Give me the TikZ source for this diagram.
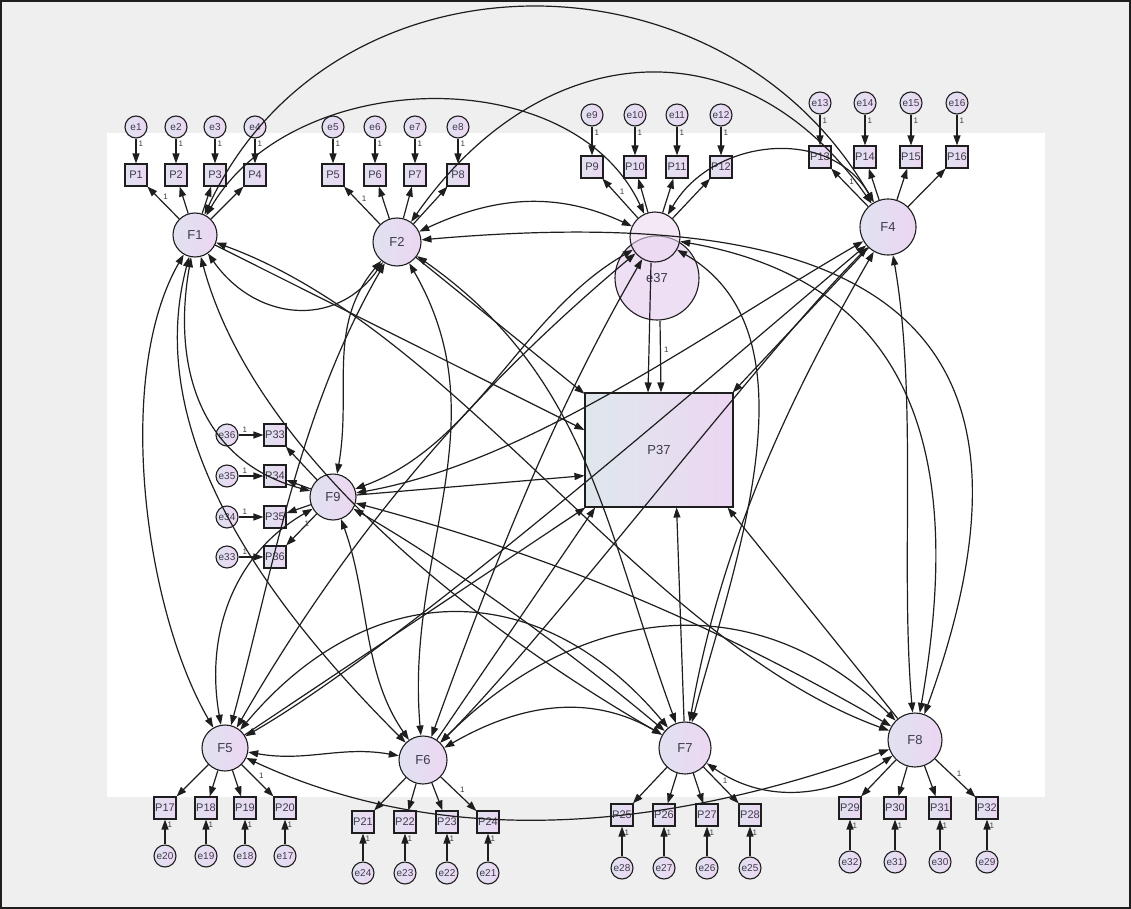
\documentclass[tikz,border=0pt]{standalone}
\usepackage{fontspec}
\setmainfont{Liberation Sans}
\usetikzlibrary{arrows.meta,calc}
\definecolor{bgG}{RGB}{239,239,239}
\definecolor{lavA}{RGB}{224,226,240}
\definecolor{lavB}{RGB}{236,214,242}
\definecolor{lavC}{RGB}{222,232,236}
\definecolor{ln}{RGB}{30,30,30}
\definecolor{txt}{RGB}{60,60,75}
\begin{document}
\begin{tikzpicture}[x=1pt,y=1pt,
  errn/.style={circle,draw=ln,line width=1.1pt,left color=lavA,right color=lavB,minimum size=22pt,inner sep=0pt,text=txt,font=\fontsize{10}{10}\selectfont},
  obsn/.style={rectangle,draw=ln,line width=1.1pt,left color=lavA,right color=lavB,minimum width=22pt,minimum height=22pt,inner sep=0pt,text=txt,font=\fontsize{11}{11}\selectfont},
  latn/.style={circle,draw=ln,line width=1.1pt,left color=lavA,right color=lavB,inner sep=0pt,text=txt,font=\fontsize{13}{13}\selectfont},
  tip/.tip={Triangle[length=10pt,width=7pt]},
  pth/.style={draw=ln,line width=1.2pt,-tip},
  cov/.style={draw=ln,line width=1.2pt,tip-tip},
  one/.style={font=\fontsize{8}{8}\selectfont,inner sep=1pt,text=txt}
]
% background
\fill[bgG] (0,0) rectangle (1131,-909);
\fill[white] (107,-133) rectangle (1045,-797);
\useasboundingbox (0,0) rectangle (1131,-909);
\draw[line width=1.6pt,ln] (1,-1) rectangle (1130,-908);

% ---------- indicator blocks ----------
\foreach \i/\x in {1/136,2/176,3/215,4/255,5/333,6/375,7/415,8/458}{
  \node[errn] (e\i) at (\x,-127) {e\i};
  \node[obsn] (P\i) at (\x,-175) {P\i};
  \draw[pth] (e\i) -- (P\i) node[one,pos=0.2,right=1pt]{1};
}
\foreach \i/\x in {9/592,10/635,11/677,12/721}{
  \node[errn] (e\i) at (\x,-115) {e\i};
  \node[obsn] (P\i) at (\x,-167) {P\i};
  \draw[pth] (e\i) -- (P\i) node[one,pos=0.2,right=1pt]{1};
}
\foreach \i/\x in {13/820,14/865,15/911,16/957}{
  \node[errn] (e\i) at (\x,-103) {e\i};
  \node[obsn] (P\i) at (\x,-157) {P\i};
  \draw[pth] (e\i) -- (P\i) node[one,pos=0.2,right=1pt]{1};
}
\foreach \p/\e/\y in {33/36/435,34/35/476,35/34/517,36/33/557}{
  \node[errn] (e\e) at (227,-\y) {e\e};
  \node[obsn] (P\p) at (275,-\y) {P\p};
  \draw[pth] (e\e) -- (P\p) node[one,pos=0.25,above=1pt]{1};
}
\foreach \p/\e/\x in {17/20/165,18/19/206,19/18/245,20/17/285}{
  \node[obsn] (P\p) at (\x,-808) {P\p};
  \node[errn] (e\e) at (\x,-856) {e\e};
  \draw[pth] (e\e) -- (P\p) node[one,pos=0.8,right=1pt]{1};
}
\foreach \p/\e/\x in {21/24/363,22/23/405,23/22/447,24/21/488}{
  \node[obsn] (P\p) at (\x,-822) {P\p};
  \node[errn] (e\e) at (\x,-873) {e\e};
  \draw[pth] (e\e) -- (P\p) node[one,pos=0.8,right=1pt]{1};
}
\foreach \p/\e/\x in {25/28/622,26/27/664,27/26/707,28/25/750}{
  \node[obsn] (P\p) at (\x,-815) {P\p};
  \node[errn] (e\e) at (\x,-868) {e\e};
  \draw[pth] (e\e) -- (P\p) node[one,pos=0.8,right=1pt]{1};
}
\foreach \p/\e/\x in {29/32/850,30/31/895,31/30/940,32/29/987}{
  \node[obsn] (P\p) at (\x,-808) {P\p};
  \node[errn] (e\e) at (\x,-862) {e\e};
  \draw[pth] (e\e) -- (P\p) node[one,pos=0.8,right=1pt]{1};
}

% ---------- latent variables ----------
\node[latn,minimum size=44pt] (F1) at (195,-235) {F1};
\node[latn,minimum size=48pt] (F2) at (397,-242) {F2};
\node[circle,draw=ln,line width=1.1pt,fill=lavB!85!lavA,fill opacity=0.8,text opacity=1,text=txt,inner sep=0pt,minimum size=84pt,font=\fontsize{13}{13}\selectfont] (e37) at (657,-278) {e37};
\node[circle,draw=ln,line width=1.1pt,fill=lavB,fill opacity=0.55,inner sep=0pt,minimum size=50pt] (F3) at (655,-237) {};
\node[latn,minimum size=56pt] (F4) at (888,-227) {F4};
\node[latn,minimum size=46pt] (F9) at (333,-497) {F9};
\node[latn,minimum size=46pt] (F5) at (225,-748) {F5};
\node[latn,minimum size=48pt] (F6) at (423,-760) {F6};
\node[latn,minimum size=52pt] (F7) at (685,-748) {F7};
\node[latn,minimum size=54pt] (F8) at (915,-740) {F8};
\node[obsn,minimum width=148pt,minimum height=114pt,left color=lavC,right color=lavB,font=\fontsize{13}{13}\selectfont] (P37) at (659,-450) {P37};

% ---------- loadings ----------
\draw[pth] (F1) -- (P1) node[one,pos=0.55,above right=0pt]{1};
\foreach \i in {2,3,4} \draw[pth] (F1) -- (P\i);
\draw[pth] (F2) -- (P5) node[one,pos=0.55,above right=0pt]{1};
\foreach \i in {6,7,8} \draw[pth] (F2) -- (P\i);
\draw[pth] (F3) -- (P9) node[one,pos=0.55,above right=0pt]{1};
\foreach \i in {10,11,12} \draw[pth] (F3) -- (P\i);
\draw[pth] (F4) -- (P13) node[one,pos=0.55,above right=0pt]{1};
\foreach \i in {14,15,16} \draw[pth] (F4) -- (P\i);
\draw[pth] (F9) -- (P36) node[one,pos=0.45,above right=0pt]{1};
\foreach \i in {33,34,35} \draw[pth] (F9) -- (P\i);
\draw[pth] (F5) -- (P20) node[one,pos=0.5,above right=0pt]{1};
\foreach \i in {17,18,19} \draw[pth] (F5) -- (P\i);
\draw[pth] (F6) -- (P24) node[one,pos=0.5,above right=0pt]{1};
\foreach \i in {21,22,23} \draw[pth] (F6) -- (P\i);
\draw[pth] (F7) -- (P28) node[one,pos=0.5,above right=0pt]{1};
\foreach \i in {25,26,27} \draw[pth] (F7) -- (P\i);
\draw[pth] (F8) -- (P32) node[one,pos=0.5,above right=0pt]{1};
\foreach \i in {29,30,31} \draw[pth] (F8) -- (P\i);

% ---------- structural paths ----------
\draw[pth] ([xshift=-4pt]F3.south) -- ([xshift=-11pt]P37.north);
\draw[pth] ([xshift=3pt]e37.south) -- ([xshift=2pt]P37.north) node[one,pos=0.4,right=2pt]{1};
\draw[pth] (F1) -- (P37.165);
\draw[pth] (F2) -- (P37.143);
\draw[pth] (F9) -- (P37.199);
\draw[pth] (F4) -- (P37.38);
\draw[pth] (F5) -- (P37.218);
\draw[pth] (F6) -- (P37.222);
\draw[pth] (F7) -- (P37.287);
\draw[pth] (F8) -- (P37.320);

% ---------- covariances ----------
\draw[cov] (F1) to[out=-55,in=-125,looseness=1.2] (F2);
\draw[cov] (F1) to[out=60,in=115,looseness=1.0] (F3);
\draw[cov] (F1) to[out=65,in=120,looseness=1.15] (F4);
\draw[cov] (F1) to[out=-100,in=165,looseness=1.1] (F9);
\draw[cov] (F1) to[out=-120,in=120,looseness=0.75] (F5);
\draw[cov] (F1) to[out=-105,in=135,looseness=0.9] (F6);
\draw[cov] (F1) to[out=-75,in=150,looseness=0.8] (F7);
\draw[cov] (F1) to[out=-20,in=160,looseness=0.8] (F8);
\draw[cov] (F2) to[out=25,in=155,looseness=1.0] (F3);
\draw[cov] (F2) to[out=55,in=125,looseness=1.25] (F4);
\draw[cov] (F2) to[out=-130,in=80,looseness=1.0] (F9);
\draw[cov] (F2) to[out=-120,in=75,looseness=0.9] (F5);
\draw[cov] (F2) to[out=-60,in=95,looseness=1.0] (F6);
\draw[cov] (F2) to[out=-35,in=110,looseness=1.0] (F7);
\draw[cov] (F2) to[out=5,in=70,looseness=1.6] (F8);
\draw[cov] (F3) to[out=60,in=120,looseness=1.1] (F4);
\draw[cov] (F3) to[out=-150,in=20,looseness=0.9] (F9);
\draw[cov] (F3) to[out=-140,in=60,looseness=0.9] (F5);
\draw[cov] (F3) to[out=-120,in=70,looseness=0.9] (F6);
\draw[cov] (F3) to[out=-30,in=75,looseness=0.9] (F7);
\draw[cov] (F3) to[out=-10,in=80,looseness=1.2] (F8);
\draw[cov] (F4) to[out=-150,in=10,looseness=0.8] (F9);
\draw[cov] (F4) to[out=-140,in=30,looseness=0.6] (F5);
\draw[cov] (F4) to[out=-135,in=45,looseness=0.6] (F6);
\draw[cov] (F4) to[out=-120,in=80,looseness=0.9] (F7);
\draw[cov] (F4) to[out=-80,in=95,looseness=0.8] (F8);
\draw[cov] (F9) to[out=-150,in=100,looseness=1.0] (F5);
\draw[cov] (F9) to[out=-70,in=125,looseness=0.9] (F6);
\draw[cov] (F9) to[out=-30,in=140,looseness=0.8] (F7);
\draw[cov] (F9) to[out=-15,in=150,looseness=0.9] (F8);
\draw[cov] (F5) to[out=-10,in=170,looseness=1.0] (F6);
\draw[cov] (F5) to[out=50,in=130,looseness=1.2] (F7);
\draw[cov] (F5) to[out=-25,in=-160,looseness=0.9] (F8);
\draw[cov] (F6) to[out=30,in=150,looseness=1.0] (F7);
\draw[cov] (F6) to[out=45,in=135,looseness=1.1] (F8);
\draw[cov] (F7) to[out=-35,in=-145,looseness=1.0] (F8);
\end{tikzpicture}
\end{document}
